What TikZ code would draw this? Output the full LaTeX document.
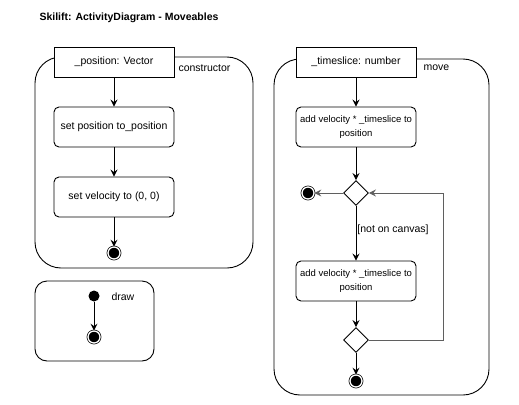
\documentclass[tikz,border=0pt]{standalone}
\usepackage{fontspec}
\setmainfont{Liberation Sans}
\usetikzlibrary{shapes.geometric,arrows.meta}
\definecolor{loopgray}{RGB}{95,95,95}
\tikzset{
  every node/.style={font=\fontsize{10.5}{12.5}\selectfont},
  container/.style={draw, line width=0.9pt, rounded corners=26pt, inner sep=0},
  parambox/.style={draw, fill=white, line width=0.9pt, minimum width=120pt, minimum height=30pt, inner sep=0},
  actbox/.style={draw, fill=white, line width=0.9pt, rounded corners=5pt, minimum width=120pt, minimum height=40pt, inner sep=1pt, align=center},
  smalltxt/.style={font=\fontsize{9.5}{14}\selectfont},
  finalnode/.style={circle, draw, fill=black, line width=0.7pt, double=white, double distance=1.3pt, minimum size=12pt, inner sep=0},
  initnode/.style={circle, fill=black, minimum size=11pt, inner sep=0},
  decision/.style={diamond, draw, fill=white, line width=0.9pt, minimum width=25pt, minimum height=25pt, inner sep=0, aspect=1},
  flow/.style={line width=0.9pt, -{Stealth[length=7pt,width=7pt,inset=2.5pt]}},
  grayflow/.style={flow, draw=loopgray}
}
\begin{document}
\begin{tikzpicture}[x=1pt,y=-1pt]
\useasboundingbox (0,0) rectangle (519,404);
\node[anchor=west, font=\bfseries\fontsize{10.5}{12.5}\selectfont] (title) at (36,18) {Skilift: ActivityDiagram - Moveables};

% constructor
\node[container, minimum width=218pt, minimum height=211pt] (c1) at (144,162.5) {};
\node[parambox] (p1) at (114,62) {\_position: Vector};
\node[anchor=west] (l1) at (175,68) {constructor};
\node[actbox] (a1) at (114,127) {set position to\_position};
\node[actbox] (a2) at (114,197) {set velocity to (0, 0)};
\node[finalnode] (f1) at (114,253) {};
\draw[flow] (p1) -- (a1);
\draw[flow] (a1) -- (a2);
\draw[flow] (a2) -- (f1);

% draw
\node[container, rounded corners=12pt, minimum width=119pt, minimum height=80pt] (c2) at (94.5,321) {};
\node[initnode] (i2) at (94,296) {};
\node[anchor=west] (l2) at (108,297) {draw};
\node[finalnode] (f2) at (94,337) {};
\draw[flow] (i2) -- (f2);

% move
\node[container, minimum width=215pt, minimum height=336pt] (c3) at (381.5,227) {};
\node[parambox] (p2) at (356,62) {\_timeslice: number};
\node[anchor=west] (l3) at (420,68) {move};
\node[actbox, smalltxt] (b1) at (356,127) {add velocity * \_timeslice to\\position};
\node[decision] (d1) at (356,193) {};
\node[finalnode] (f3) at (308,193) {};
\node[actbox, smalltxt] (b2) at (356,281) {add velocity * \_timeslice to\\position};
\node[decision] (d2) at (356,340) {};
\node[finalnode] (f4) at (356,381) {};
\coordinate (lp) at (443,340);
\draw[flow] (p2) -- (b1);
\draw[flow] (b1) -- (d1);
\draw[grayflow] (d1) -- (f3);
\draw[flow] (d1) -- node[pos=0.43, anchor=west, inner sep=1pt] (g1) {[not on canvas]} (b2);
\draw[flow] (b2) -- (d2);
\draw[flow] (d2) -- (f4);
\draw[grayflow] (d2.east) -- (lp) |- (d1.east);
\end{tikzpicture}
\end{document}
